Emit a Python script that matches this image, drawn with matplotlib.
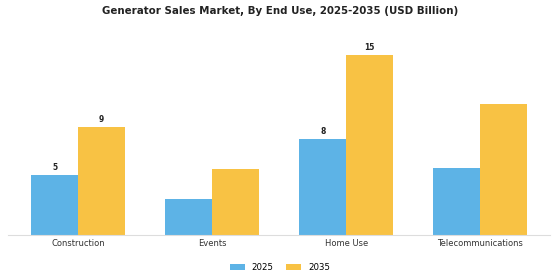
import numpy as np
import matplotlib.pyplot as plt

categories = ['Construction', 'Events', 'Home Use', 'Telecommunications']
years = ['2025', '2035']
sales_2025 = [4.96, 3.0, 7.96, 5.6]
sales_2035 = [8.95, 5.5, 14.95, 10.9]
# only some bars carry a value label in the original
labelled = [True, False, True, False]

blue = '#5DB3E6'
yellow = '#F8C244'

fig = plt.figure(figsize=(5.6, 2.8), dpi=100)
ax = fig.add_axes([0.015, 0.16, 0.967, 0.71])

x = np.arange(len(categories))
w = 0.35
b1 = ax.bar(x - w/2, sales_2025, w, color=blue, label=years[0])
b2 = ax.bar(x + w/2, sales_2035, w, color=yellow, label=years[1])

for i in range(len(categories)):
    if labelled[i]:
        ax.text(x[i] - w/2, sales_2025[i] + 0.25, f'{sales_2025[i]:.0f}', ha='center', va='bottom',
                fontsize=5.5, fontweight='bold', color='#222222')
        ax.text(x[i] + w/2, sales_2035[i] + 0.25, f'{sales_2035[i]:.0f}', ha='center', va='bottom',
                fontsize=5.5, fontweight='bold', color='#222222')

ax.set_xlim(-0.52, 3.52)
ax.set_ylim(0, 16.5)
ax.set_xticks(x)
ax.set_xticklabels(categories, fontsize=6, color='#333333')
ax.tick_params(axis='x', length=0, pad=3)
ax.set_yticks([])
for s in ['top', 'right', 'left']:
    ax.spines[s].set_visible(False)
ax.spines['bottom'].set_color('#dddddd')
ax.spines['bottom'].set_linewidth(0.8)

fig.suptitle('Generator Sales Market, By End Use, 2025-2035 (USD Billion)', fontsize=7.4,
             fontweight='bold', y=0.98, color='#222222')
fig.legend(handles=[b1, b2], labels=years, loc='lower center', ncol=2, frameon=False,
           fontsize=6.2, bbox_to_anchor=(0.5, 0.0), handlelength=1.7, handleheight=0.6,
           columnspacing=1.5)

fig.savefig('out.png', dpi=100)
